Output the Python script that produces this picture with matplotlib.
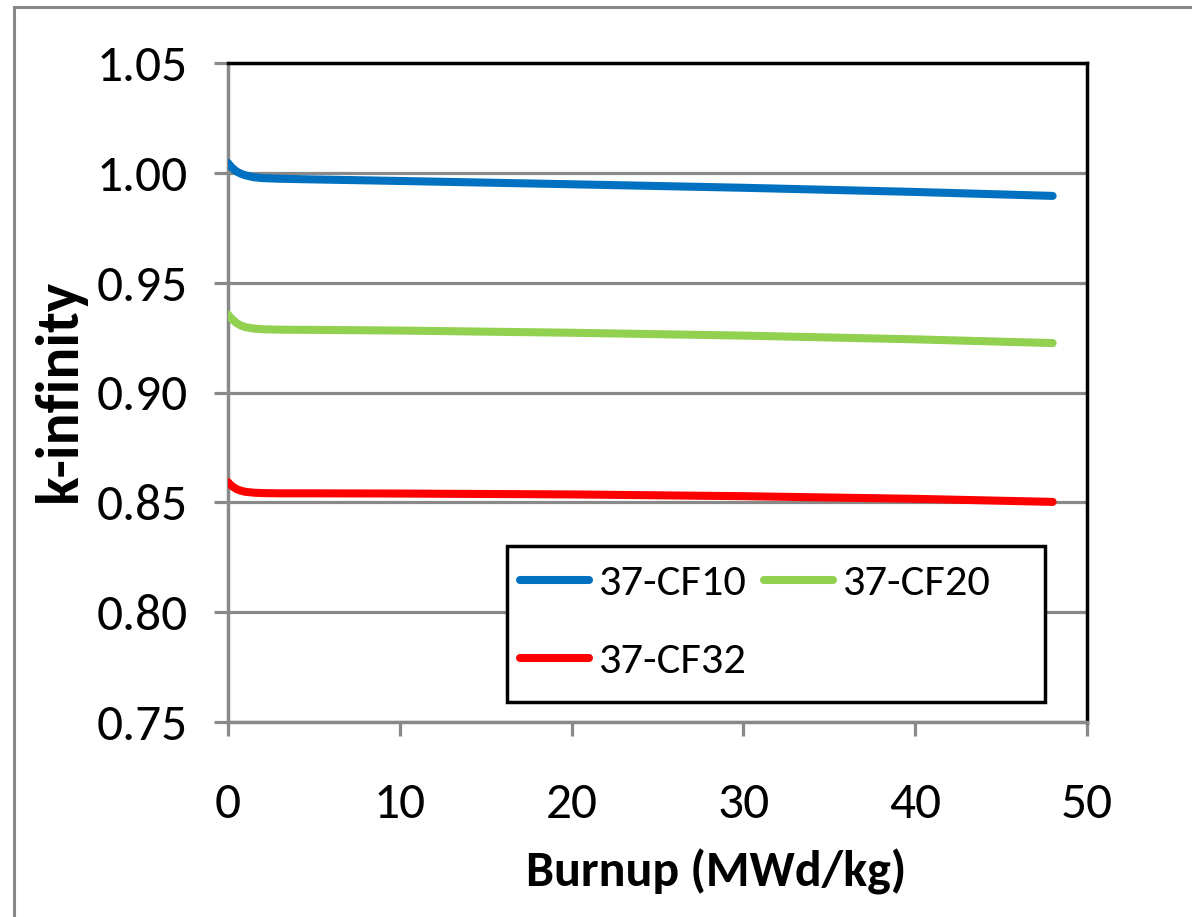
import matplotlib
matplotlib.use("Agg")
import matplotlib.pyplot as plt
from matplotlib.patches import Rectangle

plt.rcParams['font.family'] = ['Carlito', 'DejaVu Sans']

burnup = [0, 0.1, 0.25, 0.5, 0.75, 1.0, 1.5, 2, 3, 5, 10, 20, 30, 40, 48]
cf10 = [1.0045, 1.0035, 1.0022, 1.0006, 0.9996, 0.9989, 0.9980, 0.9976, 0.9973,
        0.9970, 0.9963, 0.9948, 0.9932, 0.9913, 0.9895]
cf20 = [0.9355, 0.9345, 0.9333, 0.9316, 0.9305, 0.9298, 0.9291, 0.9288, 0.9286,
        0.9285, 0.9282, 0.9272, 0.9259, 0.9242, 0.9225]
cf32 = [0.8592, 0.8583, 0.8573, 0.8560, 0.8553, 0.8548, 0.8544, 0.8542, 0.8541,
        0.8541, 0.8540, 0.8536, 0.8528, 0.8516, 0.8502]
series_names = ['37-CF10', '37-CF20', '37-CF32']
colors = ['#0070C0', '#92D050', '#FF0000']
xticks = [0, 10, 20, 30, 40, 50]
yticks = [0.75, 0.80, 0.85, 0.90, 0.95, 1.00, 1.05]

fig = plt.figure(figsize=(11.92, 9.17), dpi=100)
fig.patches.append(Rectangle((14/1192, -0.1), 1.2, 1 - 7/917 + 0.1,
                             transform=fig.transFigure, fill=False,
                             edgecolor='#888888', linewidth=2.2))
ax = fig.add_axes([228/1192, 1 - 722/917, (1087-228)/1192, (722-63)/917])

handles = []
for y, name, c in zip([cf10, cf20, cf32], series_names, colors):
    h, = ax.plot(burnup, y, color=c, lw=5.8, label=name, solid_capstyle='round', zorder=3)
    handles.append(h)

ax.set_xlim(0, 50)
ax.set_ylim(0.75, 1.05)
ax.set_xticks(xticks)
ax.set_xticklabels([str(v) for v in xticks])
ax.set_yticks(yticks)
ax.set_yticklabels([f"{v:.2f}" for v in yticks])
ax.grid(axis='y', color='#898989', lw=2.3, zorder=1)
ax.set_axisbelow(True)

for s in ['top', 'right']:
    ax.spines[s].set_color('black')
    ax.spines[s].set_linewidth(2.5)
for s in ['left', 'bottom']:
    ax.spines[s].set_color('#898989')
    ax.spines[s].set_linewidth(2.5)

ax.tick_params(axis='both', direction='out', length=10, width=2.3, color='#898989',
               labelsize=37)
ax.tick_params(axis='y', pad=19)
ax.tick_params(axis='x', pad=33)

ax.set_xlabel('Burnup (MWd/kg)', fontsize=36, fontweight='bold')
ax.xaxis.set_label_coords((716 - 228) / 859, (722 - 872) / 659)
ax.xaxis.label.set_va('center')
ax.set_ylabel('k-infinity', fontsize=43, fontweight='bold')
ax.yaxis.set_label_coords((59 - 228) / 859, (722 - 390) / 659)
ax.yaxis.label.set_va('center')

# legend frame
ax.add_patch(Rectangle(((507 - 228) / 859, (722 - 702) / 659),
                       (1045 - 507) / 859, (702 - 546) / 659,
                       transform=ax.transAxes, fill=True, facecolor='white',
                       edgecolor='black', linewidth=2.5, zorder=4))
leg = ax.legend([handles[0], handles[2], handles[1]],
                [series_names[0], series_names[2], series_names[1]],
                ncol=2, loc='upper left',
                bbox_to_anchor=((520 - 228) / 859, (722 - 564) / 659),
                fontsize=32, frameon=False,
                handlelength=1.55, handletextpad=0.22, columnspacing=0.4,
                borderpad=0, labelspacing=0.9, borderaxespad=0)
leg.set_zorder(5)

fig.savefig('out.png', dpi=100)
